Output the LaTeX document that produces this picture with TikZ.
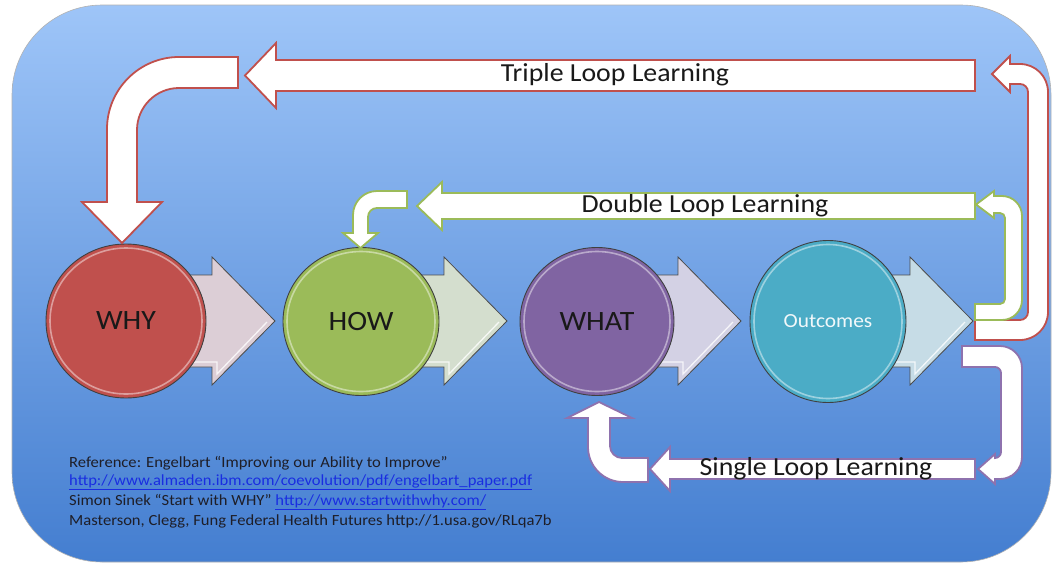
\documentclass[tikz,border=0pt]{standalone}
\usepackage{fontspec}
\setmainfont[FakeStretch=1.07]{Carlito}
\usetikzlibrary{shapes.geometric}
\definecolor{bgtop}{RGB}{158,197,248}
\definecolor{bgmid}{RGB}{118,165,236}
\definecolor{bgbot}{RGB}{68,126,208}
\definecolor{whyred}{RGB}{192,80,77}
\definecolor{howgreen}{RGB}{155,187,89}
\definecolor{whatpurple}{RGB}{128,100,162}
\definecolor{outaqua}{RGB}{75,172,198}
\definecolor{chevA}{RGB}{220,206,214}
\definecolor{chevB}{RGB}{212,222,206}
\definecolor{chevC}{RGB}{211,209,228}
\definecolor{chevD}{RGB}{198,220,230}
\definecolor{loopred}{RGB}{192,80,77}
\definecolor{loopgreen}{RGB}{155,187,89}
\definecolor{looppurple}{RGB}{142,114,174}
\definecolor{linkblue}{RGB}{25,45,225}
\definecolor{reftext}{RGB}{30,30,40}
\tikzset{
  chev/.style={draw=black!70, line width=0.8pt, line join=miter},
  chevhi/.style={draw=white, opacity=0.8, line width=1.3pt},
  ball/.style={ellipse, draw=black!75, line width=0.9pt, inner sep=0pt},
  ballring/.style={draw=white, opacity=0.45, line width=1.6pt},
  redloop/.style={fill=white, draw=loopred, line width=1.8pt, line join=miter},
  greenloop/.style={fill=white, draw=loopgreen, line width=1.8pt, line join=miter},
  purpleloop/.style={fill=white, draw=looppurple, line width=1.8pt, line join=miter},
  looplabel/.style={font=\fontsize{26}{28}\selectfont, text=black!90, inner sep=0pt},
  reflabel/.style={font=\fontsize{15.5}{17}\selectfont, text=reftext, anchor=west, inner sep=0pt},
}
\begin{document}
\begin{tikzpicture}[x=1pt,y=-1pt]
\useasboundingbox (0,0) rectangle (1053,565);
\fill[white] (0,0) rectangle (1053,565);
\shade[top color=bgtop, middle color=bgmid, bottom color=bgbot, draw=gray!60, line width=0.6pt, rounded corners=90pt] (12,5) rectangle (1051,562);

% chevron arrows behind circles
\foreach \cx/\tp/\col in {126/275/chevA, 361/507/chevB, 597/741/chevC, 828/973/chevD}{
  \pgfmathsetmacro\nx{\tp-63}
  \draw[chev, fill=\col] (\cx,275) -- (\nx,275) -- (\nx,257) -- (\tp,321) -- (\nx,385) -- (\nx,367) -- (\cx,367) -- cycle;
  \draw[chevhi] (\nx-30,362) -- (\nx+5,362) -- (\nx+5,374) -- (\tp-8,322);
}

% circles
\node[ball, fill=whyred, minimum width=160pt, minimum height=154pt, font=\fontsize{28}{30}\selectfont, text=black!90] (why) at (126,321) {WHY};
\node[ball, fill=howgreen, minimum width=156pt, minimum height=148pt, font=\fontsize{28}{30}\selectfont, text=black!90] (how) at (361,321.5) {HOW};
\node[ball, fill=whatpurple, minimum width=154pt, minimum height=148pt, font=\fontsize{28}{30}\selectfont, text=black!90] (what) at (597,321.5) {WHAT};
\node[ball, fill=outaqua, minimum width=156pt, minimum height=162pt, font=\fontsize{20}{22}\selectfont, text=white!92!outaqua] (out) at (828,321.5) {Outcomes};
\draw[ballring] (why.center) ellipse [x radius=76, y radius=73];
\draw[ballring] (how.center) ellipse [x radius=74, y radius=70];
\draw[ballring] (what.center) ellipse [x radius=73, y radius=70];
\draw[ballring] (out.center) ellipse [x radius=74, y radius=77];

% triple loop
\draw[redloop] (238,57) -- (179,57) .. controls (139.4,57) and (107,89.4) .. (107,129) -- (107,202) -- (82,202) -- (122,243) -- (162,202) -- (137,202) -- (137,130) .. controls (137,106.9) and (155.9,88) .. (179,88) -- (238,88) -- cycle;
\draw[redloop] (975,60) -- (276,60) -- (276,43) -- (245,75.5) -- (276,108) -- (276,91) -- (975,91) -- cycle;
\draw[redloop] (975,320) -- (1020,320) .. controls (1024.4,320) and (1028,316.4) .. (1028,312) -- (1028,92) .. controls (1028,87.6) and (1024.4,84) .. (1020,84) -- (1010,84) -- (1010,92) -- (992,74) -- (1010,56) -- (1010,64) -- (1020,64) .. controls (1035.5,64) and (1048,76.5) .. (1048,92) -- (1048,312) .. controls (1048,327.5) and (1035.5,340) .. (1020,340) -- (975,340) -- cycle;
\node[looplabel] (triple) at (615,75) {Triple Loop Learning};

% double loop
\draw[greenloop] (407,191) -- (377,191) .. controls (363.8,191) and (353,201.8) .. (353,215) -- (353,233) -- (343,233) -- (360.5,248) -- (378,233) -- (368,233) -- (368,217) .. controls (368,212) and (372,208) .. (377,208) -- (407,208) -- cycle;
\draw[greenloop] (975,193) -- (442,193) -- (442,182) -- (417,206) -- (442,230) -- (442,219) -- (975,219) -- cycle;
\draw[greenloop] (975,304) -- (1000,304) .. controls (1002.8,304) and (1005,301.8) .. (1005,299) -- (1005,218) .. controls (1005,215.2) and (1002.8,213) .. (1000,213) -- (994,213) -- (994,218) -- (976,204.5) -- (994,191) -- (994,196) -- (1002,196) .. controls (1013,196) and (1022,205) .. (1022,216) -- (1022,300) .. controls (1022,311) and (1013,320) .. (1002,320) -- (975,320) -- cycle;
\node[looplabel] (double) at (705,206) {Double Loop Learning};

% single loop
\draw[purpleloop] (962,346) -- (1000,346) .. controls (1012.1,346) and (1022,355.9) .. (1022,368) -- (1022,457) .. controls (1022,469.1) and (1012.1,479) .. (1000,479) -- (995,479) -- (995,484) -- (978,469) -- (995,454) -- (995,458) .. controls (998.3,458) and (1001,455.3) .. (1001,452) -- (1001,373) .. controls (1001,369.7) and (998.3,367) .. (995,367) -- (962,367) -- cycle;
\draw[purpleloop] (975,459) -- (670,459) -- (670,447) -- (650,469) -- (670,491) -- (670,479) -- (975,479) -- cycle;
\draw[purpleloop] (648,458) -- (622,458) .. controls (615.4,458) and (610,452.6) .. (610,446) -- (610,418) -- (632,418) -- (599,402) -- (567,418) -- (588,418) -- (588,447) .. controls (588,466.3) and (603.7,482) .. (623,482) -- (648,482) -- cycle;
\node[looplabel] (single) at (816,469) {Single Loop Learning};

% references
\node[reflabel] (ref1) at (69,463) {Reference: Engelbart “Improving our Ability to Improve”};
\node[reflabel, text=linkblue] (ref2) at (69,482.5) {\underline{http://www.almaden.ibm.com/coevolution/pdf/engelbart\_paper.pdf}};
\node[reflabel] (ref3) at (69,502) {Simon Sinek “Start with WHY” \textcolor{linkblue}{\underline{http://www.startwithwhy.com/}}};
\node[reflabel] (ref4) at (69,521.5) {Masterson, Clegg, Fung Federal Health Futures http://1.usa.gov/RLqa7b};
\end{tikzpicture}
\end{document}
